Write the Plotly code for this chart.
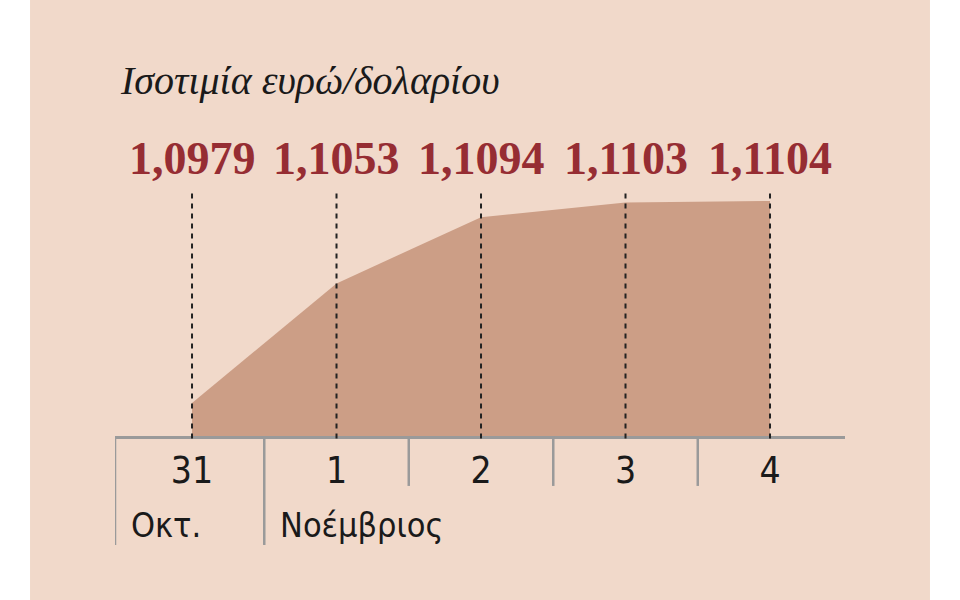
"""Ισοτιμία ευρώ/δολαρίου - area chart."""
import plotly.graph_objects as go

# data
days = ["31", "1", "2", "3", "4"]
rates = [1.0979, 1.1053, 1.1094, 1.1103, 1.1104]
rate_labels = ["1,0979", "1,1053", "1,1094", "1,1103", "1,1104"]
months = ["Οκτ.", "Νοέμβριος"]
month_start = [0, 1]  # index of first day of each month
title = "Ισοτιμία ευρώ/δολαρίου"

BG = "#f1d9ca"
FILL = "#cc9e86"
RED = "#962d33"
GRAY = "#9a9a9a"
SANS = "DejaVu Sans Condensed, DejaVu Sans"

xs = list(range(len(days)))
x_lo, x_hi = -0.533, 4.519

fig = go.Figure()
fig.add_trace(go.Scatter(
    x=xs, y=rates, mode="lines", fill="tozeroy",
    line=dict(width=0, color=FILL), fillcolor=FILL, hoverinfo="skip",
))

shapes = []
# beige panel
shapes.append(dict(type="rect", xref="paper", yref="paper",
                   x0=-0.1164, x1=1.1164, y0=-0.67, y1=1.78,
                   fillcolor=BG, line=dict(width=0), layer="below"))
# dotted guides
for x in xs:
    shapes.append(dict(type="line", xref="x", yref="paper", x0=x, x1=x,
                       y0=-0.01, y1=1, line=dict(color="#222222", width=2, dash="5px,5px")))
# separators under the axis
seps = [x_lo] + [x - 0.5 for x in xs[1:]]
for i, s in enumerate(seps):
    long_sep = i in month_start
    shapes.append(dict(type="line", xref="x", yref="paper", x0=s, x1=s,
                       y0=0, y1=-0.443 if long_sep else -0.203,
                       line=dict(color=GRAY, width=2.5)))

annotations = []
annotations.append(dict(text=title, xref="paper", yref="paper", x=0.004, y=1.447,
                        xanchor="left", yanchor="middle", showarrow=False,
                        font=dict(family="Liberation Serif", size=40, color="#1a1a1a",
                                  style="italic")))
for x, lab in zip(xs, rate_labels):
    annotations.append(dict(text=lab, xref="x", yref="paper", x=x, y=1.13,
                            xanchor="center", yanchor="middle", showarrow=False,
                            font=dict(family="Liberation Serif", size=46, color=RED,
                                      weight="bold")))
for m, i in zip(months, month_start):
    annotations.append(dict(text=m, xref="x", yref="paper", x=seps[i], xshift=14,
                            y=-0.36, xanchor="left", yanchor="middle", showarrow=False,
                            font=dict(family=SANS, size=34, color="#1a1a1a")))

fig.update_layout(
    width=960, height=600,
    margin=dict(l=115, r=115, t=190, b=164),
    paper_bgcolor="white", plot_bgcolor=BG,
    showlegend=False,
    shapes=shapes, annotations=annotations,
    xaxis=dict(range=[x_lo, x_hi], tickvals=xs, ticktext=days, showgrid=False,
               zeroline=False, showline=True, linecolor=GRAY, linewidth=3,
               ticks="", ticklabelstandoff=0,
               tickfont=dict(family=SANS, size=37, color="#1a1a1a")),
    yaxis=dict(range=[1.09586, 1.11108], showgrid=False, zeroline=False,
               showticklabels=False, ticks=""),
)

fig.write_html("out.html", config={"displayModeBar": False},
               post_script="document.body.style.margin='0';")
